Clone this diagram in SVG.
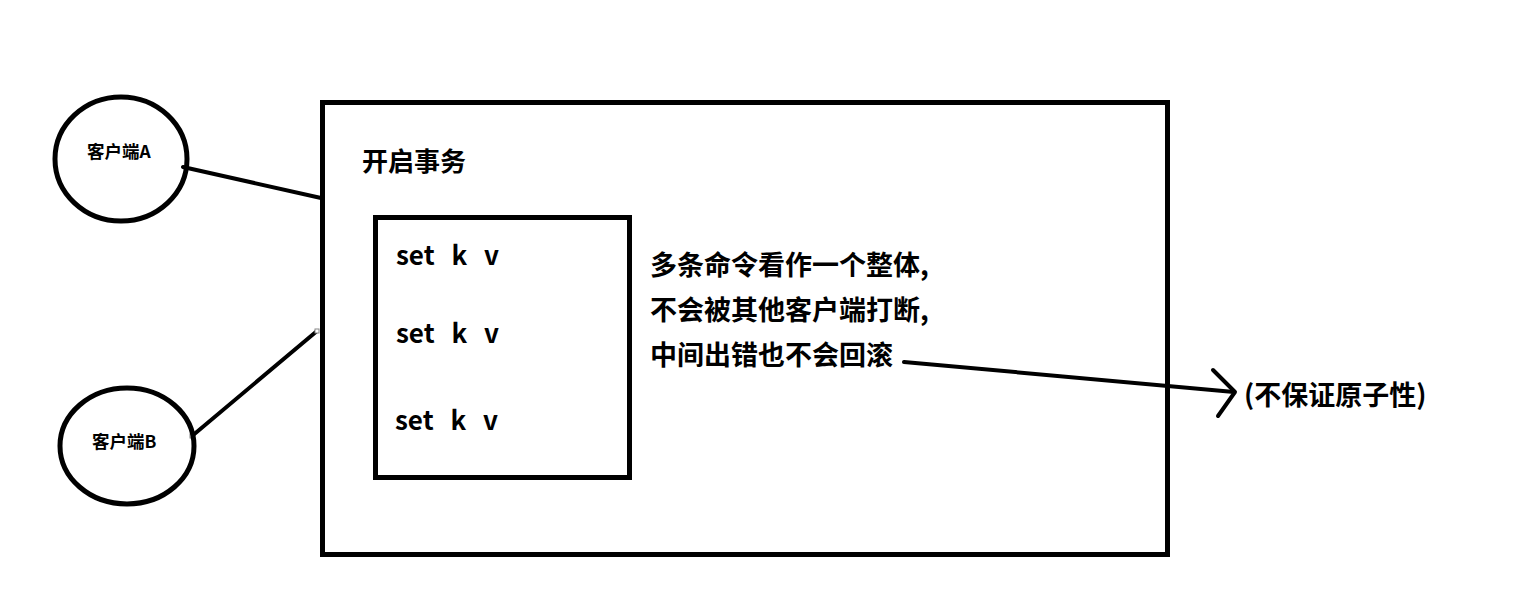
<svg xmlns="http://www.w3.org/2000/svg" width="1525" height="603" viewBox="0 0 1525 603">
<style>
.shape{fill:none;stroke:#000;stroke-width:5}
.ln{fill:none;stroke:#000;stroke-width:4;stroke-linecap:round;stroke-linejoin:round}
.t{font-family:"Noto Sans CJK SC","Noto Sans",sans-serif;font-weight:bold;fill:#000}
.lbl{font-size:17.5px}
.hdr{font-size:26px}
.big{font-size:27px}
.cmd{font-size:26px;word-spacing:2.5px}
.hd{fill:#fff;stroke:#888;stroke-width:1}
</style>
<rect width="1525" height="603" fill="#fff"/>
<g id="connectors">
<line class="ln" x1="183" y1="167" x2="321" y2="198"/>
<line class="ln" x1="192" y1="436" x2="317" y2="331"/>
<rect class="hd" x="190" y="434" width="4" height="4"/>
<rect class="hd" x="315" y="329" width="4" height="4"/>
<line class="ln" x1="904" y1="362" x2="1234" y2="392"/>
<polyline class="ln" points="1213,370 1235,392 1218,416"/>
</g>
<g id="clientA">
<ellipse class="shape" cx="121" cy="159" rx="66" ry="62"/>
<text class="t lbl" x="87" y="158">客户端A</text>
</g>
<g id="clientB">
<ellipse class="shape" cx="127" cy="446" rx="67" ry="58"/>
<text class="t lbl" x="92" y="448">客户端B</text>
</g>
<g id="transaction">
<rect class="shape" x="322.5" y="102.5" width="845" height="452"/>
<text class="t hdr" x="362" y="171">开启事务</text>
</g>
<g id="commands">
<rect class="shape" x="375.5" y="217.5" width="254" height="260"/>
<text class="t cmd" x="396" y="265" xml:space="preserve">set  k  v</text>
<text class="t cmd" x="396" y="343" xml:space="preserve">set  k  v</text>
<text class="t cmd" x="395" y="430" xml:space="preserve">set  k  v</text>
</g>
<g id="note">
<text class="t big" x="650" y="275">多条命令看作一个整体,</text>
<text class="t big" x="650" y="320">不会被其他客户端打断,</text>
<text class="t big" x="650" y="365">中间出错也不会回滚</text>
</g>
<g id="result">
<text class="t big" x="1244" y="405">(不保证原子性)</text>
</g>
</svg>
